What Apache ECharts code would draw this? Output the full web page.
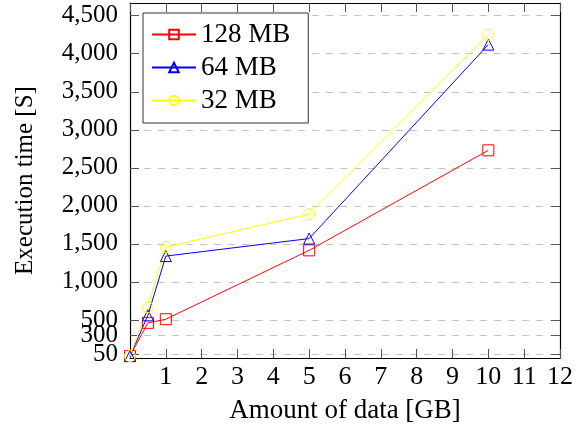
<!DOCTYPE html>
<html>
<head>
<meta charset="utf-8">
<script src="https://cdn.jsdelivr.net/npm/echarts@6/dist/echarts.min.js"></script>
<style>
html,body{margin:0;padding:0;background:#fff;}
#c{width:584px;height:430px;}
</style>
</head>
<body>
<div id="c"></div>
<script>
var xValues = [0, 0.5, 1, 5, 10];
var mb128 = [25, 462, 510, 1415, 2730];
var mb64 = [25, 560, 1340, 1570, 4120];
var mb32 = [25, 665, 1460, 1890, 4250];
var seriesNames = ['128 MB', '64 MB', '32 MB'];
var yTicks = [50, 300, 500, 1000, 1500, 2000, 2500, 3000, 3500, 4000, 4500];
var xTicks = [1, 2, 3, 4, 5, 6, 7, 8, 9, 10, 11, 12];

var FONT = 'Liberation Serif';
function pairs(ys) { return xValues.map(function (x, i) { return [x, ys[i]]; }); }
function fmt(v) { return String(v).replace(/\B(?=(\d{3})+(?!\d))/g, ','); }
// labels split over two left axes so overlapping labels (as in the original) are all drawn
var yLabelsA = yTicks.filter(function (v, i) { return i % 2 === 0; });
var yLabelsB = yTicks.filter(function (v, i) { return i % 2 === 1; });

var chart = echarts.init(document.getElementById('c'), null, {renderer: 'canvas'});
var tickStyle = {show: true, inside: true, length: 9, lineStyle: {color: '#555', width: 1}};
var axisLine = {show: true, onZero: false, lineStyle: {color: '#000', width: 1.2}};
var yLabelStyle = {margin: 12, fontFamily: FONT, fontSize: 25, color: '#000', formatter: fmt,
  hideOverlap: false, showMinLabel: true, showMaxLabel: true};

function mkSeries(name, data, color, symbol) {
  return {
    name: name, type: 'line', data: pairs(data),
    symbol: symbol, symbolSize: 11, showSymbol: true,
    lineStyle: {color: color, width: 1},
    itemStyle: {color: 'rgba(255,255,255,0)', borderColor: color, borderWidth: 1},
    emphasis: {disabled: true}
  };
}

chart.setOption({
  animation: false,
  grid: {left: 130, right: 24, top: 3, bottom: 72},
  legend: {
    orient: 'vertical', left: 143, top: 13,
    padding: [8, 18, 9, 8],
    itemWidth: 44, itemHeight: 12, itemGap: 6,
    backgroundColor: '#fff', borderColor: '#333', borderWidth: 1,
    textStyle: {fontFamily: FONT, fontSize: 27, color: '#000', lineHeight: 27},
    data: seriesNames
  },
  xAxis: [{
    type: 'value', min: 0, max: 12, interval: 1,
    name: 'Amount of data [GB]', nameLocation: 'middle', nameGap: 39,
    nameTextStyle: {fontFamily: FONT, fontSize: 27, color: '#000'},
    axisLine: axisLine, axisTick: tickStyle,
    axisLabel: {customValues: xTicks, margin: 6, fontFamily: FONT, fontSize: 26, color: '#000'},
    splitLine: {show: false}
  }, {
    type: 'value', position: 'top', min: 0, max: 12, interval: 1,
    axisLine: axisLine, axisTick: tickStyle, axisLabel: {show: false}, splitLine: {show: false}
  }],
  yAxis: [{
    type: 'value', min: 0, max: 4667,
    name: 'Execution time [S]', nameLocation: 'middle', nameGap: 92,
    nameTextStyle: {fontFamily: FONT, fontSize: 25, color: '#000'},
    axisLine: axisLine,
    axisTick: {show: true, inside: true, length: 9, lineStyle: {color: '#555', width: 1}, customValues: yTicks},
    axisLabel: Object.assign({customValues: yLabelsA}, yLabelStyle),
    splitLine: {show: true, lineStyle: {color: '#c4c4c4', width: 1, type: [7, 7]}}
  }, {
    type: 'value', position: 'right', min: 0, max: 4667,
    axisLine: axisLine,
    axisTick: {show: true, inside: true, length: 9, lineStyle: {color: '#555', width: 1}, customValues: yTicks},
    axisLabel: {show: false}, splitLine: {show: false}
  }, {
    type: 'value', position: 'left', offset: 0, min: 0, max: 4667,
    axisLine: {show: false}, axisTick: {show: false},
    axisLabel: Object.assign({customValues: yLabelsB}, yLabelStyle),
    splitLine: {show: false}
  }],
  series: [
    mkSeries(seriesNames[0], mb128, '#ff0000', 'rect'),
    mkSeries(seriesNames[1], mb64, '#0000ff', 'triangle'),
    mkSeries(seriesNames[2], mb32, '#ffff00', 'circle')
  ]
});
</script>
</body>
</html>
